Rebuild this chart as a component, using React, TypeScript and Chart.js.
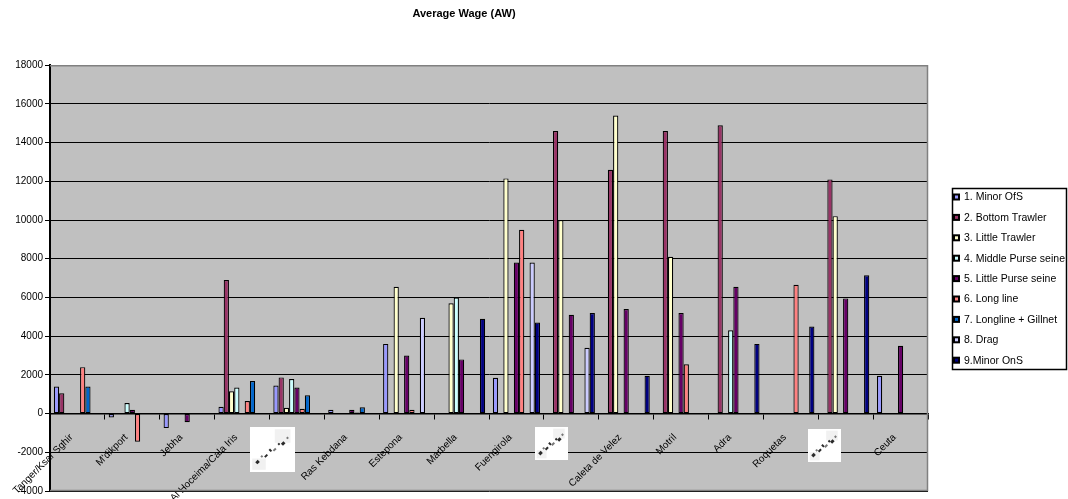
import React, { useEffect, useRef } from "react";
import { Chart, registerables } from "chart.js";

Chart.register(...registerables);

const FONT = "'Liberation Sans', Arial, Helvetica, sans-serif";

const categories = [
  "Tanger/Ksar Sghir",
  "M'dikport",
  "Jebha",
  "Al Hoceima/Cala Iris",
  "",
  "Ras Kebdana",
  "Estepona",
  "Marbella",
  "Fuengirola",
  "",
  "Caleta de Velez",
  "Motril",
  "Adra",
  "Roquetas",
  "",
  "Ceuta",
];

const seriesNames = [
  "1. Minor OfS",
  "2. Bottom Trawler",
  "3. Little Trawler",
  "4. Middle Purse seine",
  "5. Little Purse seine",
  "6. Long line",
  "7. Longline + Gillnet",
  "8. Drag",
  "9.Minor OnS",
];

const seriesColors = [
  "#9999FF",
  "#993366",
  "#FFFFCC",
  "#CCFFFF",
  "#660066",
  "#FF8080",
  "#0066CC",
  "#CCCCFF",
  "#000080",
];

const minorOfS = [1400, -200, -750, 350, 1450, 200, 3600, null, 1850, null, null, null, null, null, null, 1950];
const bottomTrawler = [1050, null, null, 6900, 1870, null, null, null, null, 14600, 12600, 14600, 14900, null, 12100, null];
const littleTrawler = [null, null, null, 1150, 300, null, 6550, 5700, 12150, 10000, 15400, 8100, null, null, 10200, null];
const middlePurseSeine = [null, 550, null, 1350, 1790, null, null, 6000, null, null, null, null, 4300, null, null, null];
const littlePurseSeine = [null, 200, -450, null, 1350, 200, 3000, 2800, 7800, 5100, 5400, 5200, 6550, null, 5950, 3500];
const longLine = [2400, -1450, null, 650, 250, 60, 200, null, 9500, null, null, 2550, null, 6650, null, null];
const longlineGillnet = [1400, null, null, 1680, 950, 330, null, null, null, null, null, null, null, null, null, null];
const drag = [null, null, null, null, null, null, 4950, null, 7800, 3400, null, null, null, null, null, null];
const minorOnS = [null, null, null, null, null, null, null, 4900, 4700, 5200, 1950, null, 3600, 4500, 7150, null];

const seriesValues = [
  minorOfS,
  bottomTrawler,
  littleTrawler,
  middlePurseSeine,
  littlePurseSeine,
  longLine,
  longlineGillnet,
  drag,
  minorOnS,
];

const yMin = -4000;
const yMax = 18000;
const yStep = 2000;

const plotBackground = {
  id: "plotBackground",
  beforeDraw(chart: any) {
    const { ctx, chartArea: a } = chart;
    ctx.save();
    ctx.fillStyle = "#C0C0C0";
    ctx.fillRect(a.left, a.top, a.right - a.left, a.bottom - a.top);
    ctx.restore();
  },
};

const plotFrame = {
  id: "plotFrame",
  afterDraw(chart: any) {
    const { ctx, chartArea: a } = chart;
    ctx.save();
    ctx.strokeStyle = "#808080";
    ctx.lineWidth = 1.5;
    ctx.beginPath();
    ctx.moveTo(a.left, a.top + 0.5);
    ctx.lineTo(a.right - 0.5, a.top + 0.5);
    ctx.lineTo(a.right - 0.5, a.bottom - 0.5);
    ctx.lineTo(a.left, a.bottom - 0.5);
    ctx.stroke();
    ctx.restore();
  },
};

// placeholders for the picture labels (scanned images in the original)
const pictureBoxes = [
  { dx: -47, top: 427, size: 45 },
  { dx: -36, top: 427, size: 33 },
  { dx: -38, top: 429, size: 33 },
];

const pictureLabels = {
  id: "pictureLabels",
  afterDraw(chart: any) {
    const { ctx } = chart;
    const xs = chart.scales.x;
    let k = 0;
    ctx.save();
    categories.forEach((c, i) => {
      if (c !== "") return;
      const b = pictureBoxes[k % pictureBoxes.length];
      k++;
      const cx = xs.getPixelForValue(i);
      const bx = Math.round(cx + b.dx);
      const by = b.top;
      const s = b.size;
      ctx.fillStyle = "#FFFFFF";
      ctx.fillRect(bx, by, s, s);
      ctx.fillStyle = "#F1F1F1";
      ctx.fillRect(bx + s * 0.55, by + s * 0.05, s * 0.35, s * 0.3);
      ctx.fillRect(bx + s * 0.05, by + s * 0.7, s * 0.3, s * 0.25);
      const n = 8;
      for (let j = 0; j < n; j++) {
        const t = (j + 0.5) / n;
        const px = bx + s * (0.12 + 0.76 * t);
        const py = by + s * (0.78 - 0.55 * t) + (j % 2 === 0 ? 1.5 : -1);
        ctx.save();
        ctx.translate(px, py);
        ctx.rotate(-Math.PI / 4);
        ctx.fillStyle = j % 3 === 1 ? "#777777" : "#2A2A2A";
        const w = j % 2 === 0 ? 3.5 : 2;
        const hh = j % 3 === 0 ? 3 : 2;
        ctx.fillRect(-w / 2, -hh / 2, w, hh);
        ctx.restore();
      }
    });
    ctx.restore();
  },
};

const boxLegend = {
  id: "boxLegend",
  afterDraw(chart: any) {
    const { ctx, chartArea: a } = chart;
    const x0 = a.right + 24;
    const w = 115;
    const rowH = 20.4;
    const h = 182;
    const y0 = Math.round((a.top + a.bottom) / 2 - h / 2) + 1;
    ctx.save();
    ctx.fillStyle = "#FFFFFF";
    ctx.fillRect(x0, y0, w, h);
    ctx.strokeStyle = "#000000";
    ctx.lineWidth = 1.5;
    ctx.strokeRect(x0 + 0.5, y0 + 0.5, w - 1, h - 1);
    ctx.font = `10.5px ${FONT}`;
    ctx.textBaseline = "middle";
    ctx.textAlign = "left";
    chart.data.datasets.forEach((ds: any, i: number) => {
      const cy = y0 + 9.5 + i * rowH;
      ctx.fillStyle = "#000000";
      ctx.fillRect(x0 + 1, cy - 4, 7, 7);
      ctx.fillStyle = ds.backgroundColor;
      ctx.fillRect(x0 + 3, cy - 2, 3, 3);
      ctx.fillStyle = "#000000";
      ctx.fillText(ds.label, x0 + 12, cy);
    });
    ctx.restore();
  },
};

export default function App() {
  const canvasRef = useRef<HTMLCanvasElement | null>(null);

  useEffect(() => {
    const canvas = canvasRef.current;
    if (!canvas) return;
    const chart = new Chart(canvas, {
      type: "bar",
      data: {
        labels: categories,
        datasets: seriesNames.map((name, i) => ({
          label: name,
          data: seriesValues[i],
          backgroundColor: seriesColors[i],
          borderColor: "#000000",
          borderWidth: 1.2,
          borderSkipped: false,
          categoryPercentage: 0.86,
          barPercentage: 1.0,
        })),
      },
      options: {
        responsive: false,
        devicePixelRatio: 1,
        animation: false,
        layout: { padding: { left: 0, right: 140, top: 0, bottom: 4 } },
        plugins: {
          legend: { display: false },
          tooltip: { enabled: false },
          title: {
            display: true,
            text: "Average Wage (AW)",
            color: "#000000",
            font: { family: FONT, size: 11, weight: "bold" },
            padding: { top: 7, bottom: 45 },
          },
        },
        scales: {
          x: {
            type: "category",
            position: { y: 0 } as any,
            offset: true,
            grid: {
              display: true,
              offset: true,
              drawOnChartArea: false,
              drawTicks: true,
              tickLength: 5,
              color: "#000000",
            },
            border: { display: true, color: "#000000", width: 1.5 },
            ticks: {
              autoSkip: false,
              minRotation: 45,
              maxRotation: 45,
              padding: 13,
              labelOffset: -6,
              color: "#000000",
              font: { family: FONT, size: 10 },
            },
            afterFit: (s: any) => {
              s.paddingLeft = 0;
              s.paddingRight = 0;
            },
          },
          y: {
            type: "linear",
            min: yMin,
            max: yMax,
            ticks: {
              stepSize: yStep,
              color: "#000000",
              padding: 2,
              font: { family: FONT, size: 10 },
              callback: (v: any) => String(v),
            },
            grid: { color: "#000000", lineWidth: 1, tickLength: 5, drawTicks: true },
            border: { display: true, color: "#000000", width: 2 },
            afterFit: (s: any) => {
              s.width = 50;
            },
          },
        },
      },
      plugins: [plotBackground, plotFrame, pictureLabels, boxLegend],
    });
    return () => chart.destroy();
  }, []);

  return (
    <div style={{ position: "absolute", left: 0, top: 0, width: 1068, height: 499, background: "#FFFFFF" }}>
      <canvas ref={canvasRef} width={1068} height={499} style={{ display: "block" }} />
    </div>
  );
}
